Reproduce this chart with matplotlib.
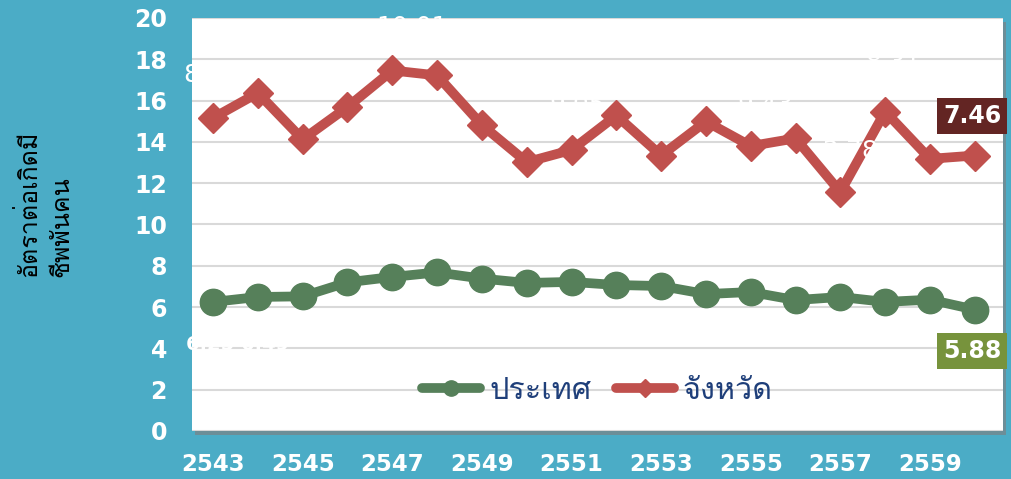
import matplotlib
matplotlib.use("Agg")
import matplotlib.pyplot as plt
from matplotlib import font_manager
from matplotlib.ft2font import FT2Font
from matplotlib.patches import Rectangle
from matplotlib.lines import Line2D

years = [2543, 2544, 2545, 2546, 2547, 2548, 2549, 2550, 2551,
         2552, 2553, 2554, 2555, 2556, 2557, 2558, 2559, 2560]
country = [6.25, 6.49, 6.52, 7.20, 7.46, 7.68, 7.38, 7.17, 7.22,
           7.07, 7.02, 6.63, 6.73, 6.34, 6.49, 6.25, 6.36, 5.88]
province = [15.16, 16.37, 14.12, 15.69, 17.46, 17.22, 14.82, 13.02, 13.61,
            15.28, 13.34, 14.99, 13.80, 14.17, 11.57, 15.47, 13.18, 13.34]
series_names = ["ประเทศ", "จังหวัด"]
end_labels = ["5.88", "7.46"]
ylabel_lines = ["อัตราต่อเกิดมี", "ชีพพันคน"]
# white data labels that mostly vanish on the white plot area
ghost_labels = ["8.28", "6.25 6.49", "10.01", "2.78", "8.31", "9.05", "9.43"]
ghost_pos = [(-0.67, 17.24, "left", 18, "normal"), (-0.61, 4.2, "left", 14, "bold"),
             (3.65, 19.55, "left", 18, "normal"), (14.85, 13.55, "right", 18, "normal"),
             (14.55, 17.8, "left", 18, "normal"), (7.5, 15.8, "left", 18, "normal"),
             (11.7, 15.8, "left", 18, "normal")]

BG = "#4BACC6"
GREEN = "#56805A"
RED = "#C0504D"


def thai_font():
    # find an installed font that has Thai glyphs
    for f in font_manager.fontManager.ttflist:
        try:
            cmap = FT2Font(f.fname).get_charmap()
        except Exception:
            continue
        if 0x0E01 in cmap and 0x0E1E in cmap:
            return f.name
    return "DejaVu Sans"


TH = thai_font()

fig = plt.figure(figsize=(10.12, 4.79), dpi=100, facecolor=BG)
ax = fig.add_axes([192 / 1012, 1 - 431 / 479, 811 / 1012, 413 / 479])
ax.set_zorder(2)
ax.set_facecolor("white")

# soft shadow behind the plot area
fig.patches.append(Rectangle((195 / 1012, 1 - 435 / 479), 811 / 1012, 413 / 479,
                             transform=fig.transFigure, facecolor="#6C8E98",
                             edgecolor="none", zorder=0))

x = list(range(len(years)))
ax.plot(x, country, color=GREEN, lw=7, marker="o", ms=19, zorder=3)
ax.plot(x, province, color=RED, lw=7, marker="D", ms=15, zorder=3)

ax.set_xlim(-0.47, 17.63)
ax.set_ylim(0, 20)
ax.set_yticks(range(0, 21, 2))
ax.set_xticks(x[::2])
ax.set_xticklabels([str(y) for y in years[::2]])
ax.grid(axis="y", color="#D9D9D9", lw=1.5)
ax.set_axisbelow(True)
for s in ax.spines.values():
    s.set_visible(False)
ax.tick_params(length=0, colors="white", labelsize=17)
ax.tick_params(axis="x", labelsize=16.5, pad=16)
ax.tick_params(axis="y", pad=18)
for lab in ax.get_xticklabels() + ax.get_yticklabels():
    lab.set_fontweight("bold")

for txt, (gx, gy, ha, fs, fw) in zip(ghost_labels, ghost_pos):
    ax.text(gx, gy, txt, color="white", fontsize=fs, fontweight=fw, ha=ha, va="center",
            zorder=4, clip_on=False)

# end-of-series value boxes
ax.text(16.94, 3.87, end_labels[0], color="white", fontsize=17, fontweight="bold",
        ha="center", va="center", zorder=5, clip_on=False,
        bbox=dict(boxstyle="square,pad=0.25", facecolor="#77933C", edgecolor="none"))
ax.text(16.94, 15.25, end_labels[1], color="white", fontsize=17, fontweight="bold",
        ha="center", va="center", zorder=5, clip_on=False,
        bbox=dict(boxstyle="square,pad=0.25", facecolor="#632523", edgecolor="none"))

handles = [Line2D([], [], color=GREEN, lw=7, marker="o", ms=11, solid_capstyle="round"),
           Line2D([], [], color=RED, lw=7, marker="D", ms=9, solid_capstyle="round")]
leg = ax.legend(handles, series_names, loc="center", bbox_to_anchor=(0.5, (431 - 391) / 413),
                ncol=2, frameon=False, handlelength=1.9, handletextpad=0.3,
                columnspacing=0.8, prop={"family": [TH, "DejaVu Sans"], "size": 22})
leg.set_zorder(6)
for t in leg.get_texts():
    t.set_color("#1F3F7A")

fig.text(29 / 1012, 1 - 277 / 479, ylabel_lines[0], rotation=90, ha="center", va="bottom",
         fontsize=18, family=[TH, "DejaVu Sans"], color="black")
fig.text(62 / 1012, 1 - 277 / 479, ylabel_lines[1], rotation=90, ha="center", va="bottom",
         fontsize=18, family=[TH, "DejaVu Sans"], color="black")

fig.savefig("out.png", dpi=100, facecolor=BG)
